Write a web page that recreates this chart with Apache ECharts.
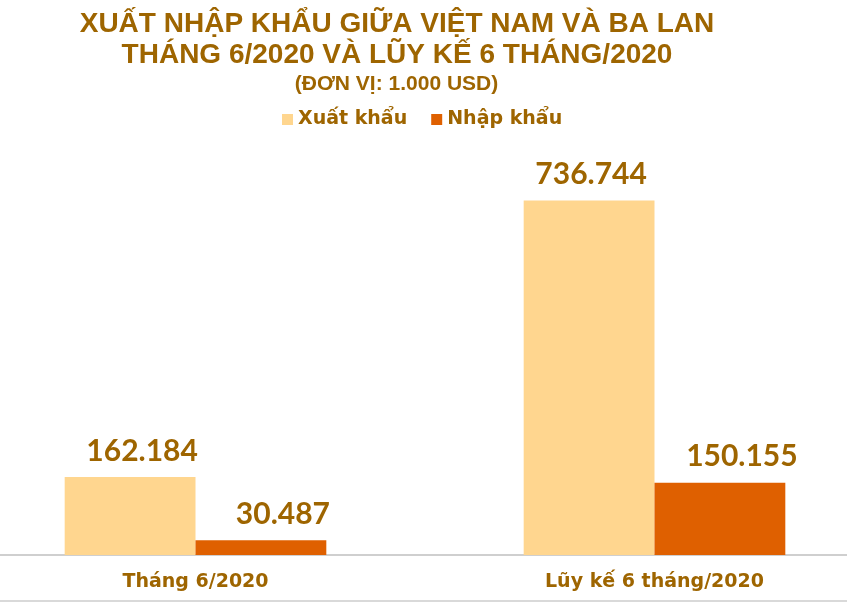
<!DOCTYPE html>
<html>
<head>
<meta charset="utf-8">
<script src="https://cdn.jsdelivr.net/npm/echarts@6/dist/echarts.min.js"></script>
<style>
html,body{margin:0;padding:0;background:#fff;overflow:hidden;width:847px;height:602px;}
#chart{position:absolute;left:-34px;top:0;width:918px;height:602px;}
</style>
</head>
<body>
<div id="chart"></div>
<div style="position:absolute;left:0;top:600px;width:847px;height:2px;background:#D9D9D9;"></div>
<script>
const categories = ['Tháng 6/2020', 'Lũy kế 6 tháng/2020'];
const seriesNames = ['Xuất khẩu', 'Nhập khẩu'];
const xuatKhau = [162.184, 736.744];
const nhapKhau = [30.487, 150.155];
const titleLines = ['XUẤT NHẬP KHẨU GIỮA VIỆT NAM VÀ BA LAN', 'THÁNG 6/2020 VÀ LŨY KẾ 6 THÁNG/2020'];
const subtitle = '(ĐƠN VỊ: 1.000 USD)';

const TXT = '#9E6500';
const fmt = v => v.toFixed(3);
const SHIFT = 34; // chart canvas starts 34px left of the page

const chart = echarts.init(document.getElementById('chart'));
const labelStyle = {
  show: true, position: 'top', distance: 11,
  fontFamily: 'Lato', fontWeight: 'bold', fontSize: 30, color: TXT,
  formatter: p => fmt(p.value)
};
const xOff = [[12, 2], [22, 22]];
chart.setOption({
  animation: false,
  graphic: [
    { type: 'text', x: 397 + SHIFT, y: 9,
      style: { text: titleLines.join('\n'), textAlign: 'center', textVerticalAlign: 'top', fill: TXT,
               font: 'bold 28px "Liberation Sans"', lineHeight: 31 } },
    { type: 'text', x: 396.5 + SHIFT, y: 74,
      style: { text: subtitle, textAlign: 'center', textVerticalAlign: 'top', fill: TXT,
               font: 'bold 21px "Liberation Sans"', lineHeight: 21 } }
  ],
  legend: {
    top: 110, left: 282 + SHIFT, padding: 0, itemWidth: 11, itemHeight: 11, itemGap: 24,
    icon: 'rect',
    textStyle: { fontFamily: 'DejaVu Sans', fontWeight: 'bold', fontSize: 19, color: TXT },
    data: seriesNames
  },
  grid: { left: 0, right: 0, top: 170, bottom: 47, containLabel: false },
  xAxis: {
    type: 'category', data: categories,
    axisLine: { lineStyle: { color: '#BFBFBF', width: 1.5 } },
    axisTick: { show: false },
    axisLabel: { fontFamily: 'DejaVu Sans', fontWeight: 'bold', fontSize: 19, color: TXT, margin: 18 }
  },
  yAxis: { type: 'value', min: 0, max: 800, show: false, splitLine: { show: false } },
  series: [
    { name: seriesNames[0], type: 'bar', barGap: 0, barCategoryGap: '43%',
      itemStyle: { color: '#FFD68F' },
      data: xuatKhau.map((v, i) => ({ value: v, label: { offset: [xOff[0][i], 0] } })),
      label: labelStyle },
    { name: seriesNames[1], type: 'bar',
      itemStyle: { color: '#DF6000' },
      data: nhapKhau.map((v, i) => ({ value: v, label: { offset: [xOff[1][i], 0] } })),
      label: labelStyle }
  ]
});
</script>
</body>
</html>
